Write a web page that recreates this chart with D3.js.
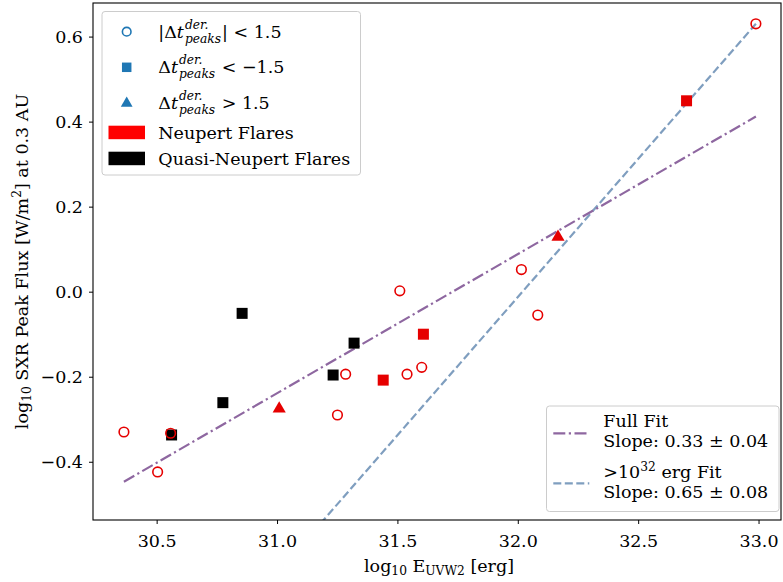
<!DOCTYPE html>
<html><head><meta charset="utf-8">
<script src="https://cdn.jsdelivr.net/npm/d3@7"></script>
<style>
body{margin:0;background:#fff;}
svg{display:block;font-family:"DejaVu Serif",serif;}
svg text{white-space:pre;}
</style></head>
<body><svg id="c" width="783" height="582"></svg>
<script>
// ---- data (log10 E_UVW2 [erg], log10 SXR peak flux) ----
const redCirclesX = [30.364, 30.504, 30.558, 31.251, 31.285, 31.510, 31.540, 31.601, 32.015, 32.083, 32.989];
const redCirclesY = [-0.330, -0.424, -0.333, -0.290, -0.194, 0.002, -0.194, -0.178, 0.052, -0.055, 0.630];
const redSquaresX = [31.441, 31.608, 32.701];
const redSquaresY = [-0.208, -0.100, 0.449];
const redTrianglesX = [31.009, 32.167];
const redTrianglesY = [-0.273, 0.131];
const blackSquaresX = [30.562, 30.775, 30.855, 31.233, 31.320];
const blackSquaresY = [-0.337, -0.261, -0.051, -0.196, -0.121];
// fit lines (end points)
const fullFitX = [30.364, 32.989];
const fullFitY = [-0.447, 0.412];
const highFitX = [30.364, 32.989];
const highFitY = [-1.076, 0.630];
const xTicks = [30.5, 31.0, 31.5, 32.0, 32.5, 33.0];
const yTicks = [-0.4, -0.2, 0.0, 0.2, 0.4, 0.6];

const svg = d3.select("#c");
const L = 93, R = 781, T = 3, B = 520;
const x = d3.scaleLinear().domain([30.2356, 33.0933]).range([L, R]);
const y = d3.scaleLinear().domain([-0.537, 0.679]).range([B, T]);
const FS = 17.5;
const RED = "#e60000";

svg.append("defs").append("clipPath").attr("id","clip")
  .append("rect").attr("x",L).attr("y",T).attr("width",R-L).attr("height",B-T);

const fmt = v => (v < 0 ? "\u2212" : "") + Math.abs(v).toFixed(1);

// axes
const xAxis = d3.axisBottom(x).tickValues(xTicks).tickFormat(fmt).tickSize(4).tickPadding(6);
const yAxis = d3.axisLeft(y).tickValues(yTicks).tickFormat(fmt).tickSize(4).tickPadding(6);
const gx = svg.append("g").attr("transform",`translate(0,${B})`).call(xAxis);
const gy = svg.append("g").attr("transform",`translate(${L},0)`).call(yAxis);
[gx,gy].forEach(g=>{
  g.select(".domain").remove();
  g.selectAll("line").attr("stroke","#000").attr("stroke-width",1);
  g.selectAll("text").attr("font-family","DejaVu Serif").attr("font-size",FS).attr("fill","#000");
});
gx.selectAll("text").attr("dy","0.95em");
gy.selectAll("text").attr("dy","0.35em");

// fit lines
const plot = svg.append("g").attr("clip-path","url(#clip)");
const line = d3.line().x(d=>x(d[0])).y(d=>y(d[1]));
plot.append("path").datum(highFitX.map((v,i)=>[v,highFitY[i]])).attr("d",line)
  .attr("fill","none").attr("stroke","#7f9ebf").attr("stroke-width",2.2).attr("stroke-dasharray","8,3.5");
plot.append("path").datum(fullFitX.map((v,i)=>[v,fullFitY[i]])).attr("d",line)
  .attr("fill","none").attr("stroke","#8e67a0").attr("stroke-width",2.2).attr("stroke-dasharray","12,3.5,2.2,3.5");

// markers
const sq = d3.symbol().type(d3.symbolSquare).size(121);
const tri = d3.symbol().type(d3.symbolTriangle).size(75);
plot.selectAll(".bs").data(blackSquaresX.map((v,i)=>[v,blackSquaresY[i]])).join("path")
  .attr("d",sq).attr("transform",d=>`translate(${x(d[0])},${y(d[1])})`).attr("fill","#000");
plot.selectAll(".rs").data(redSquaresX.map((v,i)=>[v,redSquaresY[i]])).join("path")
  .attr("d",sq).attr("transform",d=>`translate(${x(d[0])},${y(d[1])})`).attr("fill",RED);
plot.selectAll(".rt").data(redTrianglesX.map((v,i)=>[v,redTrianglesY[i]])).join("path")
  .attr("d",tri).attr("transform",d=>`translate(${x(d[0])},${y(d[1])+1})`).attr("fill",RED);
plot.selectAll(".rc").data(redCirclesX.map((v,i)=>[v,redCirclesY[i]])).join("circle")
  .attr("cx",d=>x(d[0])).attr("cy",d=>y(d[1])).attr("r",4.8)
  .attr("fill","none").attr("stroke",RED).attr("stroke-width",1.6);

// frame
svg.append("rect").attr("x",L).attr("y",T).attr("width",R-L).attr("height",B-T)
  .attr("fill","none").attr("stroke","#000").attr("stroke-width",1.1);

// axis labels
const xl = svg.append("text").attr("x",(L+R)/2+2).attr("y",572).attr("text-anchor","middle")
  .attr("font-size",FS).attr("fill","#000");
xl.append("tspan").text("log");
xl.append("tspan").attr("font-size",FS*0.7).attr("dy",3).text("10");
xl.append("tspan").attr("dy",-3).text(" E");
xl.append("tspan").attr("font-size",FS*0.7).attr("dy",3).text("UVW2");
xl.append("tspan").attr("dy",-3).text(" [erg]");

const yl = svg.append("text").attr("transform",`translate(28,${(T+B)/2}) rotate(-90)`)
  .attr("text-anchor","middle").attr("font-size",FS).attr("fill","#000");
yl.append("tspan").text("log");
yl.append("tspan").attr("font-size",FS*0.7).attr("dy",3).text("10");
yl.append("tspan").attr("dy",-3).text(" SXR Peak Flux [W/m");
yl.append("tspan").attr("font-size",FS*0.7).attr("dy",-7).text("2");
yl.append("tspan").attr("dy",7).text("] at 0.3 AU");

// ---- legend 1 ----
const lg = svg.append("g");
lg.append("rect").attr("x",102).attr("y",11.5).attr("width",258.5).attr("height",163.5).attr("rx",3)
  .attr("fill","#fff").attr("fill-opacity",0.8).attr("stroke","#cccccc").attr("stroke-width",1);
const BLUE = "#1f77b4";
lg.append("circle").attr("cx",126.7).attr("cy",31.7).attr("r",4.3).attr("fill","none").attr("stroke",BLUE).attr("stroke-width",1.6);
lg.append("path").attr("d",d3.symbol().type(d3.symbolSquare).size(90)).attr("transform","translate(126.7,67.3)").attr("fill",BLUE);
lg.append("path").attr("d",d3.symbol().type(d3.symbolTriangle).size(60)).attr("transform","translate(126.7,103.3)").attr("fill",BLUE);
lg.append("rect").attr("x",108.5).attr("y",125.7).attr("width",36.5).attr("height",13.5).attr("fill","#ff0000");
lg.append("rect").attr("x",108.5).attr("y",151.7).attr("width",36.5).attr("height",13.5).attr("fill","#000");

function mathEntry(x0, yb, pre, post){
  let cx = x0;
  const add = (txt, opts={}) => {
    const t = lg.append("text").attr("x",cx).attr("y",yb + (opts.dy||0))
      .attr("font-size", opts.size||FS).attr("fill","#000").text(txt);
    if (opts.italic) t.attr("font-style","italic");
    return t;
  };
  let t = add(pre); cx += t.node().getComputedTextLength();
  t = add("t",{italic:true}); cx += t.node().getComputedTextLength()+1;
  const s1 = add("der.",{italic:true,size:FS*0.7,dy:-9});
  const s2 = add("peaks",{italic:true,size:FS*0.7,dy:5});
  cx += Math.max(s1.node().getComputedTextLength(), s2.node().getComputedTextLength()) + 1;
  add(post);
}
mathEntry(158.3, 37.5, "|\u0394", "| < 1.5");
mathEntry(158.3, 73, "\u0394", " < \u22121.5");
mathEntry(158.3, 108.5, "\u0394", " > 1.5");
lg.append("text").attr("x",158.3).attr("y",138.5).attr("font-size",FS).attr("fill","#000").text("Neupert Flares");
lg.append("text").attr("x",158.3).attr("y",164.5).attr("font-size",FS).attr("fill","#000").text("Quasi-Neupert Flares");

// ---- legend 2 ----
const lg2 = svg.append("g");
lg2.append("rect").attr("x",546.5).attr("y",406).attr("width",232.5).attr("height",105.5).attr("rx",3)
  .attr("fill","#fff").attr("fill-opacity",0.8).attr("stroke","#cccccc").attr("stroke-width",1);
lg2.append("line").attr("x1",553.3).attr("x2",589.3).attr("y1",433.3).attr("y2",433.3)
  .attr("stroke","#8e67a0").attr("stroke-width",2.2).attr("stroke-dasharray","12,3.5,2.2,3.5");
lg2.append("line").attr("x1",553.3).attr("x2",589.3).attr("y1",483.3).attr("y2",483.3)
  .attr("stroke","#7f9ebf").attr("stroke-width",2.2).attr("stroke-dasharray","8,3.5");
const t2 = (yy, s) => lg2.append("text").attr("x",603.3).attr("y",yy).attr("font-size",FS).attr("fill","#000").text(s);
t2(426.5, "Full Fit");
t2(446.5, "Slope: 0.33 \u00b1 0.04");
const g3 = t2(477.5, ">10");
g3.append("tspan").attr("font-size",FS*0.7).attr("dy",-7).text("32");
g3.append("tspan").attr("dy",7).text(" erg Fit");
t2(497.5, "Slope: 0.65 \u00b1 0.08");
</script></body></html>
